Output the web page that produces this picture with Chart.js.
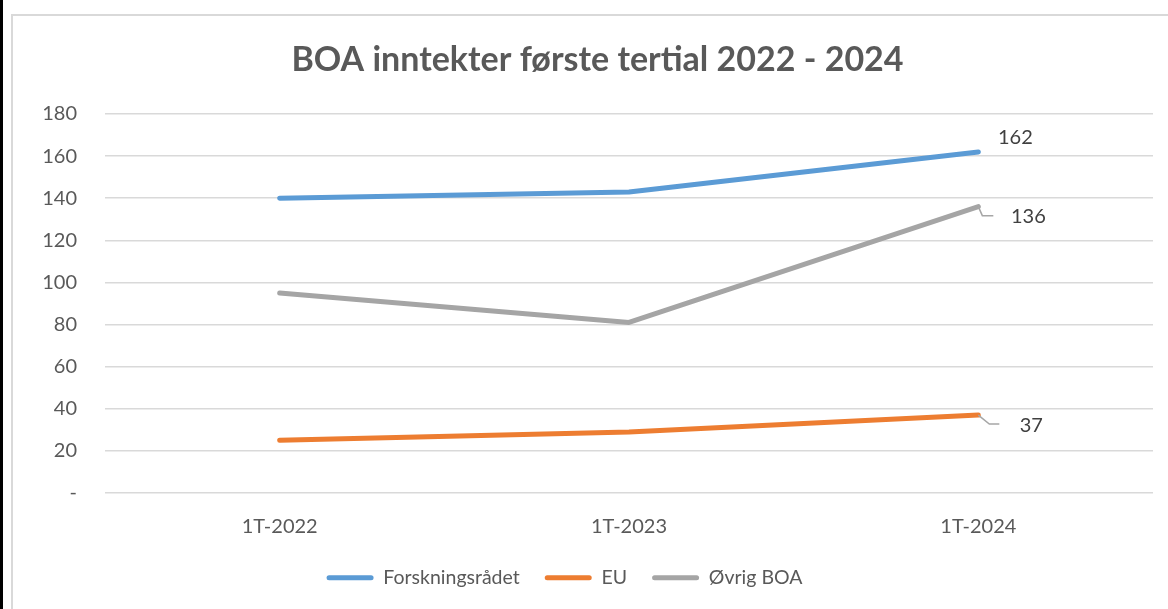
<!DOCTYPE html>
<html><head><meta charset="utf-8">
<script src="https://cdn.jsdelivr.net/npm/chart.js@4"></script>
<style>
html,body{margin:0;padding:0;background:#fff;}
#wrap{position:relative;width:1168px;height:609px;overflow:hidden;background:#fff;}
#edge{position:absolute;left:0;top:0;width:3px;height:609px;background:#000;z-index:2;}
#frame{position:absolute;left:11px;top:14px;width:1220px;height:700px;border:2px solid #d9d9d9;box-sizing:border-box;z-index:2;pointer-events:none;}
canvas{position:absolute;left:0;top:0;}
</style>
</head><body>
<div id="wrap"><div id="edge"></div><div id="frame"></div><canvas id="c" width="1168" height="609"></canvas></div>
<script>
const categories = ['1T-2022', '1T-2023', '1T-2024'];
const forskningsradet = [140, 143, 162];
const eu = [25, 29, 37];
const ovrigBoa = [95, 81, 136];
const seriesNames = ['Forskningsrådet', 'EU', 'Øvrig BOA'];
const chartTitle = 'BOA inntekter første tertial 2022 - 2024';

const FONT = 'Lato, "Liberation Sans", sans-serif';
const colors = ['#5B9BD5', '#ED7D31', '#A5A5A5'];
// label placement styles for the last point of each series
const labelStyle = [
  {dx: 37, dy: -14, leader: null},
  {dx: 53, dy: 10, leader: [[11, 9], [21, 9]]},
  {dx: 50, dy: 10, leader: [[4, 9], [15, 9]]}
];
const LEGEND_SHIFT = -33;

const endLabels = {
  id: 'endLabels',
  afterLayout(chart) {
    if (chart.legend) {
      chart.legend.left += LEGEND_SHIFT;
      chart.legend.right += LEGEND_SHIFT;
    }
  },
  afterDatasetsDraw(chart) {
    const ctx = chart.ctx;
    ctx.save();
    chart.data.datasets.forEach((ds, i) => {
      const meta = chart.getDatasetMeta(i);
      const idx = ds.data.length - 1;
      const pt = meta.data[idx];
      const st = labelStyle[i];
      if (st.leader) {
        ctx.beginPath();
        ctx.strokeStyle = '#a6a6a6';
        ctx.lineWidth = 1.5;
        ctx.moveTo(pt.x, pt.y);
        st.leader.forEach(p => ctx.lineTo(pt.x + p[0], pt.y + p[1]));
        ctx.stroke();
      }
      ctx.fillStyle = '#404040';
      ctx.font = '20px ' + FONT;
      ctx.textAlign = 'center';
      ctx.textBaseline = 'middle';
      ctx.fillText(String(ds.data[idx]), pt.x + st.dx, pt.y + st.dy);
    });
    ctx.restore();
  }
};

const values = [forskningsradet, eu, ovrigBoa];
new Chart(document.getElementById('c'), {
  type: 'line',
  data: {
    labels: categories,
    datasets: values.map((v, i) => ({
      label: seriesNames[i],
      data: v,
      borderColor: colors[i],
      backgroundColor: colors[i],
      borderWidth: 5,
      borderCapStyle: 'round',
      borderJoinStyle: 'round',
      pointRadius: 0,
      tension: 0
    }))
  },
  options: {
    responsive: false,
    animation: false,
    layout: {padding: {left: 42, right: 15, top: 0, bottom: 11.5}},
    plugins: {
      title: {
        display: true,
        text: chartTitle,
        color: '#595959',
        font: {family: FONT, size: 34, weight: 'bold'},
        padding: {top: 39.5, bottom: 33.7}
      },
      legend: {
        position: 'bottom',
        labels: {
          color: '#595959',
          font: {family: FONT, size: 19.5},
          boxWidth: 47,
          boxHeight: 5,
          padding: 25,
          generateLabels(chart) {
            const items = Chart.defaults.plugins.legend.labels.generateLabels(chart);
            items.forEach(it => { it.lineWidth = 0; it.borderRadius = 2.5; });
            return items;
          }
        }
      },
      tooltip: {enabled: false}
    },
    scales: {
      x: {
        offset: true,
        grid: {display: false, drawTicks: true, tickLength: 18},
        border: {display: false},
        ticks: {color: '#595959', font: {family: FONT, size: 20}, padding: 4}
      },
      y: {
        min: 0, max: 180,
        ticks: {
          stepSize: 20,
          color: '#595959',
          font: {family: FONT, size: 20},
          padding: 28,
          callback: v => v === 0 ? '-' : v
        },
        grid: {color: '#d9d9d9', lineWidth: 1.5, drawTicks: false},
        border: {display: false},
        afterFit(scale) { scale.width = 63; }
      }
    }
  },
  plugins: [endLabels]
});
</script>
</body></html>
